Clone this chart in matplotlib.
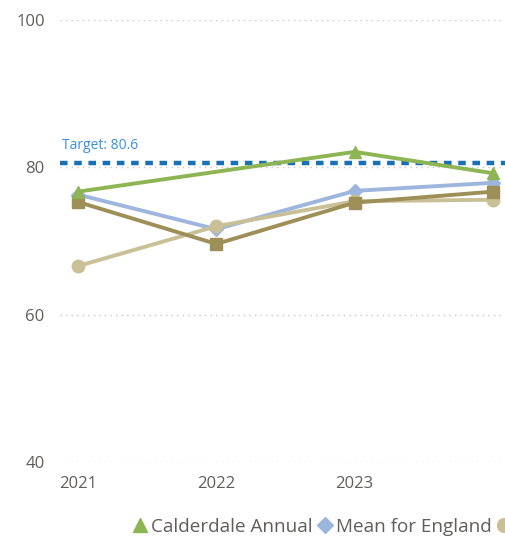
import matplotlib
matplotlib.use("Agg")
import matplotlib.pyplot as plt
from matplotlib.lines import Line2D

plt.rcParams['font.family'] = ['Open Sans', 'DejaVu Sans']

years = [2021, 2022, 2023, 2024]
year_labels = ["2021", "2022", "2023", ""]  # last label is cropped off in the reference

cald_years = [2021, 2023, 2024]
cald_annual = [76.7, 82.1, 79.2]
england_mean = [76.3, 71.6, 76.8, 77.9]
series_circle = [66.6, 72.0, 75.4, 75.6]
series_square = [75.3, 69.6, 75.2, 76.7]
target = 80.6

yticks = [40, 60, 80, 100]

fig = plt.figure(figsize=(5.06, 5.38), dpi=100)
# axes extends beyond right edge (chart is cropped)
ax = fig.add_axes([60/506, 76/538, 500/506, 442/538])

ax.set_ylim(40, 100)
ax.set_xlim(2021 - 18/138.3, 2021 + 482/138.3)

for y in yticks:
    ax.axhline(y, color="#c8c8c8", lw=1.0, ls=(0, (1, 3)), zorder=0)

ax.axhline(target, color="#1a6fb5", lw=3.2, ls=(0, (1.7, 1.5)), zorder=1)
ax.text(2021 - 16/138.3, target + 1.3, f"Target: {target}", color="#3a8ee0",
        fontsize=10, ha="left", va="bottom")

lw = 2.8
ax.plot(years, england_mean, color="#9db6dd", lw=lw, marker="D", ms=7, zorder=3)
ax.plot(years, series_circle, color="#c9c097", lw=lw, marker="o", ms=9, zorder=4)
ax.plot(years, series_square, color="#9d8f57", lw=lw, marker="s", ms=8, zorder=5)
ax.plot(cald_years, cald_annual, color="#8db554", lw=lw, marker="^", ms=9, zorder=6)

ax.set_yticks(yticks)
ax.set_yticklabels([str(v) for v in yticks])
ax.set_xticks(years)
ax.set_xticklabels(year_labels)
ax.tick_params(axis="both", length=0, colors="#605e5c", labelsize=12)
ax.tick_params(axis="y", pad=11)
ax.tick_params(axis="x", pad=10)
for s in ax.spines.values():
    s.set_visible(False)

handles = [
    Line2D([], [], color="#8db554", marker="^", ls="none", ms=10),
    Line2D([], [], color="#9db6dd", marker="D", ls="none", ms=8),
    Line2D([], [], color="#c9c097", marker="o", ls="none", ms=10),
]
labels = ["Calderdale Annual", "Mean for England", ""]  # third entry's text is cropped in the reference
fig.legend(handles, labels, loc="center left", bbox_to_anchor=(133/506, 11/538),
           ncol=3, frameon=False, fontsize=13.6, handlelength=0.7, handletextpad=0.25,
           columnspacing=0.3, labelcolor="#605e5c", borderaxespad=0, borderpad=0)

fig.savefig("out.png", dpi=100)
